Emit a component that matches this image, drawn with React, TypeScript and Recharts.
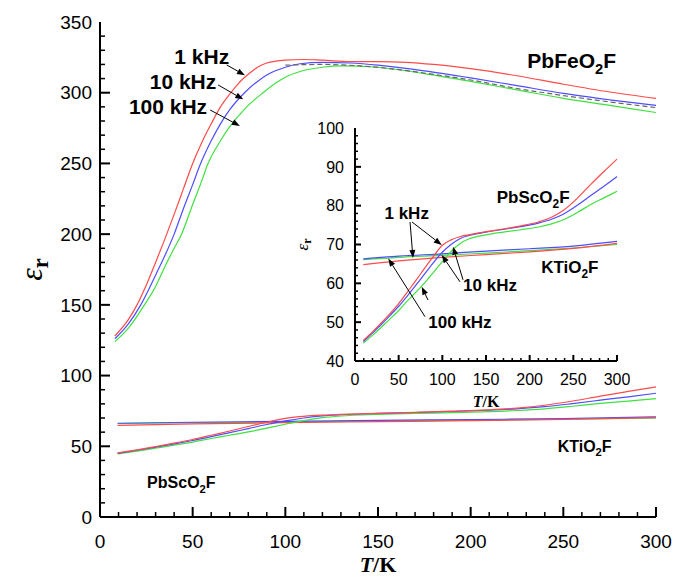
import React from "react";
import { LineChart, Line, XAxis, YAxis, ReferenceLine, ReferenceDot, Label } from "recharts";

// T (K), permittivity
const pbFe1k = [[8,128],[15,139],[20,150],[25,164],[30,180],[36,200],[40,214],[45,232],[50,250],[55,265],[60,278],[65,290],[70,299],[75,307],[80,313],[85,318],[90,321],[100,323],[110,323.5],[120,323],[135,322],[150,322],[165,321.5],[180,320],[200,317],[225,312],[250,306],[275,300.5],[300,296]];
const pbFe10k = [[8,126],[15,136],[22,150],[30,171],[40,200],[45,218],[50,235],[54,249],[60,266],[65,278],[70,288],[78,300],[85,308],[90,312.5],[100,318],[108,320.5],[120,321.5],[135,321],[150,319.5],[175,315.5],[200,310.5],[225,305],[250,299.5],[275,295],[300,291]];
const pbFe100k = [[8,124],[15,133],[24,150],[30,163],[35,177],[40,190],[44,200],[50,221],[55,238],[58,249],[65,266],[70,276],[75,284],[80,291],[88,300],[95,307],[100,311],[108,315],[120,318],[130,319],[150,318],[175,313.5],[200,308],[225,302],[250,296],[275,291],[300,286]];
const pbFeExtra = [[100,319.5],[120,320],[140,319],[160,316.5],[180,313],[200,309],[225,303],[250,298],[275,293.5],[300,289.5]];

const pbSc1k = [[9.5,45.3],[20,47.5],[30,49.8],[40,52.2],[50,54.8],[60,57.8],[70,60.8],[80,64],[90,67],[100,69.8],[110,71.2],[120,72],[130,72.5],[150,73.3],[170,74],[190,74.8],[210,75.8],[225,77],[240,79],[255,82],[270,85.5],[285,88.8],[300,92]];
const pbSc10k = [[9.5,45],[20,47.2],[30,49.4],[40,51.7],[50,54.1],[60,56.8],[70,59.6],[80,62.5],[90,65.4],[100,68],[110,70],[120,71.5],[130,72.3],[150,73.2],[170,73.9],[190,74.6],[210,75.5],[225,76.5],[240,78],[255,80.2],[270,82.6],[285,85],[300,87.5]];
const pbSc100k = [[9.5,44.6],[20,46.6],[30,48.7],[40,50.8],[50,53],[60,55.5],[70,57.8],[80,60.2],[90,62.9],[100,65.6],[110,68.2],[120,70.2],[130,71.4],[150,72.5],[170,73.2],[190,73.8],[210,74.5],[225,75.3],[240,76.5],[255,78.3],[270,80.3],[285,82],[300,83.7]];

const kTi1k = [[9.5,64.8],[50,65.8],[100,66.7],[150,67.4],[200,68.1],[250,69],[300,70.3]];
const kTi10k = [[9.5,66.3],[50,67],[100,67.6],[150,68.3],[200,68.9],[250,69.6],[300,70.8]];
const kTi100k = [[9.5,66.1],[50,66.7],[100,67.2],[150,67.8],[200,68.4],[250,69.1],[300,70]];

const xLabels = [0, 50, 100, 150, 200, 250, 300];
const mainYLabels = [0, 50, 100, 150, 200, 250, 300, 350];
const insetYLabels = [40, 50, 60, 70, 80, 90, 100];
// every tick mark position (minor + major)
const xMarks = Array.from({ length: 31 }, (_, i) => i * 10);
const mainYMarks = Array.from({ length: 35 }, (_, i) => i * 10);
const insetYMarks = Array.from({ length: 30 }, (_, i) => 40 + i * 2);

// annotations (data coordinates)
const mainFreq = [["1 kHz", 54.9, 325.5], ["10 kHz", 44.8, 307.8], ["100 kHz", 36.7, 290.6]];
const mainArrows = [[68.4, 319.6, 78.2, 312.4], [63.7, 305.5, 77.3, 295.3], [59.4, 287.8, 75.5, 276.5]];
const insetFreq = [["1 kHz", 59.2, 78.1], ["10 kHz", 154.6, 59.6], ["100 kHz", 120.2, 50.1]];
const insetArrows = [
  [63, 75.8, 66.4, 66.5], [65.3, 75.8, 99.3, 69.9],
  [123.7, 60.9, 112.2, 69.4], [120.2, 60.4, 99.3, 67.3],
  [80.2, 51.4, 38.1, 66.4], [83.6, 55.7, 76.4, 59.1],
];

const RED = "#ff4a4a";
const BLUE = "#4d4dff";
const GREEN = "#3fe03f";
const SANS = "'Liberation Sans', Arial, sans-serif";
const SERIF = "'Liberation Serif', 'Times New Roman', serif";

const pts = (arr: number[][]) => arr.map(([T, v]) => ({ T, v }));

const mainLines = [
  { data: pbFe1k, color: RED }, { data: pbFe10k, color: BLUE }, { data: pbFe100k, color: GREEN },
  { data: pbFeExtra, color: "#666", dash: "5 3" },
  { data: kTi100k, color: GREEN }, { data: kTi10k, color: BLUE }, { data: kTi1k, color: RED },
  { data: pbSc100k, color: GREEN }, { data: pbSc10k, color: BLUE }, { data: pbSc1k, color: RED },
];
const insetLines = [
  { data: kTi100k, color: GREEN }, { data: kTi10k, color: BLUE }, { data: kTi1k, color: RED },
  { data: pbSc100k, color: GREEN }, { data: pbSc10k, color: BLUE }, { data: pbSc1k, color: RED },
];

function Chem({ x, y, name, size }: { x: number; y: number; name: string[]; size: number }) {
  return (
    <text x={x} y={y + size * 0.36} textAnchor="middle" fontFamily={SANS} fontWeight="bold" fontSize={size} fill="#000">
      {name[0]}
      <tspan fontSize={size * 0.7} dy={size * 0.28}>{name[1]}</tspan>
      <tspan dy={-size * 0.28}>{name[2]}</tspan>
    </text>
  );
}

const Arrow = (p: any) => {
  const { x1, y1, x2, y2 } = p;
  const a = Math.atan2(y2 - y1, x2 - x1);
  const L = 8, W = 3;
  const bx = x2 - L * Math.cos(a);
  const by = y2 - L * Math.sin(a);
  const tri = `${x2},${y2} ${bx - W * Math.sin(a)},${by + W * Math.cos(a)} ${bx + W * Math.sin(a)},${by - W * Math.cos(a)}`;
  return (
    <g>
      <line x1={x1} y1={y1} x2={bx} y2={by} stroke="#000" strokeWidth={1} />
      <polygon points={tri} fill="#000" />
    </g>
  );
};

// inward tick marks drawn from the axis position; length in pixels
const TickMark = (p: any) => {
  const { x1, y1, x2, y2, len, major } = p;
  const horiz = Math.abs(y2 - y1) < Math.abs(x2 - x1);
  const w = major ? 2 : 1.5;
  return horiz
    ? <line x1={x1} y1={y1} x2={x1 + len} y2={y1} stroke="#000" strokeWidth={w} />
    : <line x1={x1} y1={y1} x2={x1} y2={y1 - len} stroke="#000" strokeWidth={w} />;
};

function tickMarks(xs: number[], ys: number[], x0: number, x1: number, y0: number, y1: number,
  xMajor: number, yMajor: number, majorLen: number, minorLen: number) {
  const out: React.ReactNode[] = [];
  xs.forEach((t) => {
    const major = t % xMajor === 0;
    out.push(<ReferenceLine key={"tx" + t} ifOverflow="visible" segment={[{ x: t, y: y0 }, { x: t, y: y1 }]}
      shape={(p: any) => <TickMark {...p} len={major ? majorLen : minorLen} major={major} />} />);
  });
  ys.forEach((v) => {
    const major = v % yMajor === 0;
    out.push(<ReferenceLine key={"ty" + v} ifOverflow="visible" segment={[{ x: x0, y: v }, { x: x1, y: v }]}
      shape={(p: any) => <TickMark {...p} len={major ? majorLen : minorLen} major={major} />} />);
  });
  return out;
}

const TKTitle = ({ viewBox, size, dy }: any) => {
  const { x, y, width } = viewBox;
  return (
    <text x={x + width / 2} y={y + dy} textAnchor="middle" fontFamily={SERIF} fontWeight="bold" fontSize={size} fill="#000">
      <tspan fontStyle="italic">T</tspan>/K
    </text>
  );
};

const EpsTitle = ({ viewBox, size, cx }: any) => {
  const { y, height } = viewBox;
  const cy = y + height / 2;
  return (
    <text x={cx} y={cy} transform={`rotate(-90 ${cx} ${cy})`} textAnchor="middle" fontFamily={SERIF} fill="#000">
      <tspan fontStyle="italic" fontSize={size}>ε</tspan>
      <tspan fontWeight="bold" fontSize={size * 0.7} dy={size * 0.2}>r</tspan>
    </text>
  );
};

const axisLine = { stroke: "#000", strokeWidth: 2 };

export default function App() {
  return (
    <div style={{ position: "absolute", left: 0, top: 0, width: 674, height: 577, background: "#fff" }}>
      <LineChart width={674} height={577} margin={{ top: 22, right: 18, bottom: 0, left: 0 }}>
        <XAxis dataKey="T" type="number" domain={[0, 300]} ticks={xLabels} interval={0} height={60}
          axisLine={axisLine} tickLine={false} tickSize={0} tickMargin={18}
          tick={{ fill: "#000", fontSize: 19, fontFamily: SANS }}>
          <Label content={<TKTitle size={22} dy={55} />} />
        </XAxis>
        <XAxis xAxisId="top" orientation="top" type="number" domain={[0, 300]} height={0} tick={false} tickLine={false} axisLine={axisLine} />
        <YAxis type="number" domain={[0, 350]} ticks={mainYLabels} interval={0} width={100}
          axisLine={axisLine} tickLine={false} tickSize={0} tickMargin={8}
          tick={{ fill: "#000", fontSize: 19, fontFamily: SANS }}>
          <Label content={<EpsTitle size={32} cx={42} />} />
        </YAxis>
        <YAxis yAxisId="right" orientation="right" type="number" domain={[0, 350]} width={0} tick={false} tickLine={false} axisLine={axisLine} />
        {tickMarks(xMarks, mainYMarks, 0, 10, 0, 10, 50, 50, 10, 5)}
        {mainLines.map((s, i) => (
          <Line key={i} data={pts(s.data)} dataKey="v" type="monotone" stroke={s.color} strokeWidth={1.2}
            strokeDasharray={s.dash} dot={false} activeDot={false} isAnimationActive={false} />
        ))}
        {mainArrows.map((a, i) => (
          <ReferenceLine key={"a" + i} segment={[{ x: a[0], y: a[1] }, { x: a[2], y: a[3] }]} shape={Arrow} />
        ))}
        {mainFreq.map((f, i) => (
          <ReferenceDot key={"f" + i} x={f[1] as number} y={f[2] as number} r={0}
            shape={(p: any) => (
              <text x={p.cx} y={p.cy + 7.5} textAnchor="middle" fontFamily={SANS} fontWeight="bold" fontSize={21}>{f[0]}</text>
            )} />
        ))}
        <ReferenceDot x={254.5} y={323} r={0} shape={(p: any) => <Chem x={p.cx} y={p.cy} name={["PbFeO", "2", "F"]} size={21} />} />
        <ReferenceDot x={261.5} y={50.3} r={0} shape={(p: any) => <Chem x={p.cx} y={p.cy} name={["KTiO", "2", "F"]} size={16} />} />
        <ReferenceDot x={43.9} y={24.5} r={0} shape={(p: any) => <Chem x={p.cx} y={p.cy} name={["PbScO", "2", "F"]} size={16} />} />
      </LineChart>

      <div style={{ position: "absolute", left: 290, top: 118 }}>
        <LineChart width={340} height={300} margin={{ top: 10, right: 13, bottom: 0, left: 0 }}>
          <XAxis dataKey="T" type="number" domain={[0, 300]} ticks={xLabels} interval={0} height={57}
            axisLine={axisLine} tickLine={false} tickSize={0} tickMargin={13}
            tick={{ fill: "#000", fontSize: 16, fontFamily: SANS }}>
            <Label content={<TKTitle size={16} dy={46} />} />
          </XAxis>
          <XAxis xAxisId="top" orientation="top" type="number" domain={[0, 300]} height={0} tick={false} tickLine={false} axisLine={axisLine} />
          <YAxis type="number" domain={[40, 100]} ticks={insetYLabels} interval={0} width={65}
            axisLine={axisLine} tickLine={false} tickSize={0} tickMargin={11}
            tick={{ fill: "#000", fontSize: 16, fontFamily: SANS }}>
            <Label content={<EpsTitle size={17} cx={18} />} />
          </YAxis>
          <YAxis yAxisId="right" orientation="right" type="number" domain={[40, 100]} width={0} tick={false} tickLine={false} axisLine={axisLine} />
          {tickMarks(xMarks, insetYMarks, 0, 10, 40, 45, 50, 10, 6, 3)}
          {insetLines.map((s, i) => (
            <Line key={i} data={pts(s.data)} dataKey="v" type="monotone" stroke={s.color} strokeWidth={1.2}
              dot={false} activeDot={false} isAnimationActive={false} />
          ))}
          {insetArrows.map((a, i) => (
            <ReferenceLine key={"a" + i} segment={[{ x: a[0], y: a[1] }, { x: a[2], y: a[3] }]} shape={Arrow} />
          ))}
          {insetFreq.map((f, i) => (
            <ReferenceDot key={"f" + i} x={f[1] as number} y={f[2] as number} r={0}
              shape={(p: any) => (
                <text x={p.cx} y={p.cy + 6} textAnchor="middle" fontFamily={SANS} fontWeight="bold" fontSize={17}>{f[0]}</text>
              )} />
          ))}
          <ReferenceDot x={204} y={82.3} r={0} shape={(p: any) => <Chem x={p.cx} y={p.cy} name={["PbScO", "2", "F"]} size={17} />} />
          <ReferenceDot x={246} y={64.3} r={0} shape={(p: any) => <Chem x={p.cx} y={p.cy} name={["KTiO", "2", "F"]} size={17} />} />
        </LineChart>
      </div>
    </div>
  );
}
